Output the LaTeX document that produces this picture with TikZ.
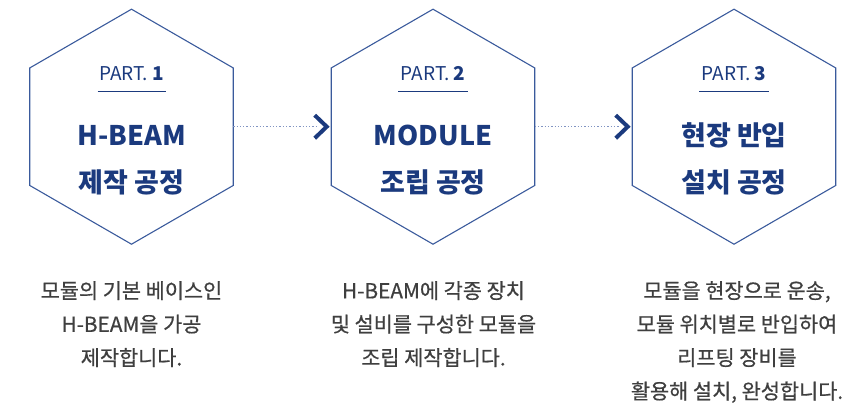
\documentclass[tikz,border=0pt]{standalone}
\usepackage{fontspec}
\setmainfont{Noto Sans CJK KR}
\newfontfamily\bodyfont{Noto Sans CJK KR}[FakeBold=0.6]
\usetikzlibrary{shapes.geometric,calc}
\definecolor{hexline}{HTML}{3A5A9C}
\definecolor{navy}{HTML}{1B3A7E}
\definecolor{bodygray}{HTML}{3F3F3F}
\definecolor{dotblue}{HTML}{8194C2}
\begin{document}
\begin{tikzpicture}[x=1pt,y=-1pt,
  hexa/.style={draw=hexline, line width=1.1pt, regular polygon, regular polygon sides=6,
    shape border rotate=30, minimum size=235pt, inner sep=0pt, outer sep=0pt},
  partlbl/.style={text=navy, font=\fontsize{19}{19}\selectfont, anchor=base, inner sep=0pt},
  titleline/.style={text=navy, font=\fontsize{27}{27}\selectfont\bfseries, anchor=base, inner sep=0pt},
  bodytxt/.style={text=bodygray, font=\bodyfont\fontsize{20.8}{33.5}\selectfont, align=center, anchor=north, inner sep=0pt},
  underl/.style={draw=navy, line width=1pt},
  dotline/.style={draw=dotblue, line width=1.3pt, dash pattern=on 1.3pt off 2pt},
  chev/.style={draw=navy, line width=4pt, miter limit=10}]
\useasboundingbox (0,0) rectangle (852,407);
% hexagons
\node[hexa] (h1) at (131.5,126.7) {};
\node[hexa] (h2) at (433,126.7) {};
\node[hexa] (h3) at (734,126.7) {};
% part labels
\node[partlbl] (p1) at (131.5,80) {PART. \textbf{1}};
\node[partlbl] (p2) at (433,80) {PART. \textbf{2}};
\node[partlbl] (p3) at (734,80) {PART. \textbf{3}};
\draw[underl] (97.5,91.5) -- (165.5,91.5);
\draw[underl] (398,91.5) -- (468,91.5);
\draw[underl] (699,91.5) -- (769,91.5);
% titles
\node[titleline] (t1a) at (131.5,145) {H-BEAM};
\node[titleline] (t1b) at (131.5,192.5) {제작 공정};
\node[titleline] (t2a) at (433,145) {MODULE};
\node[titleline] (t2b) at (433,192.5) {조립 공정};
\node[titleline] (t3a) at (734,145) {현장 반입};
\node[titleline] (t3b) at (734,192.5) {설치 공정};
% connectors
\coordinate (v2) at ($(h2.west)+(-4.5,0)$);
\coordinate (v3) at ($(h3.west)+(-4.5,0)$);
\draw[dotline] (h1.east) -- ($(v2)+(-8,0)$);
\draw[dotline] (h2.east) -- ($(v3)+(-8,0)$);
\draw[chev] ($(v2)+(-12,-11.5)$) -- (v2) -- ($(v2)+(-12,11.5)$);
\draw[chev] ($(v3)+(-12,-11.5)$) -- (v3) -- ($(v3)+(-12,11.5)$);
% body texts
\node[bodytxt] (b1) at (131.5,281) {모듈의 기본 베이스인\\H-BEAM을 가공\\제작합니다.};
\node[bodytxt] (b2) at (433.5,281) {H-BEAM에 각종 장치\\및 설비를 구성한 모듈을\\조립 제작합니다.};
\node[bodytxt] (b3) at (737,281) {모듈을 현장으로 운송,\\모듈 위치별로 반입하여\\리프팅 장비를\\활용해 설치, 완성합니다.};
\end{tikzpicture}
\end{document}
